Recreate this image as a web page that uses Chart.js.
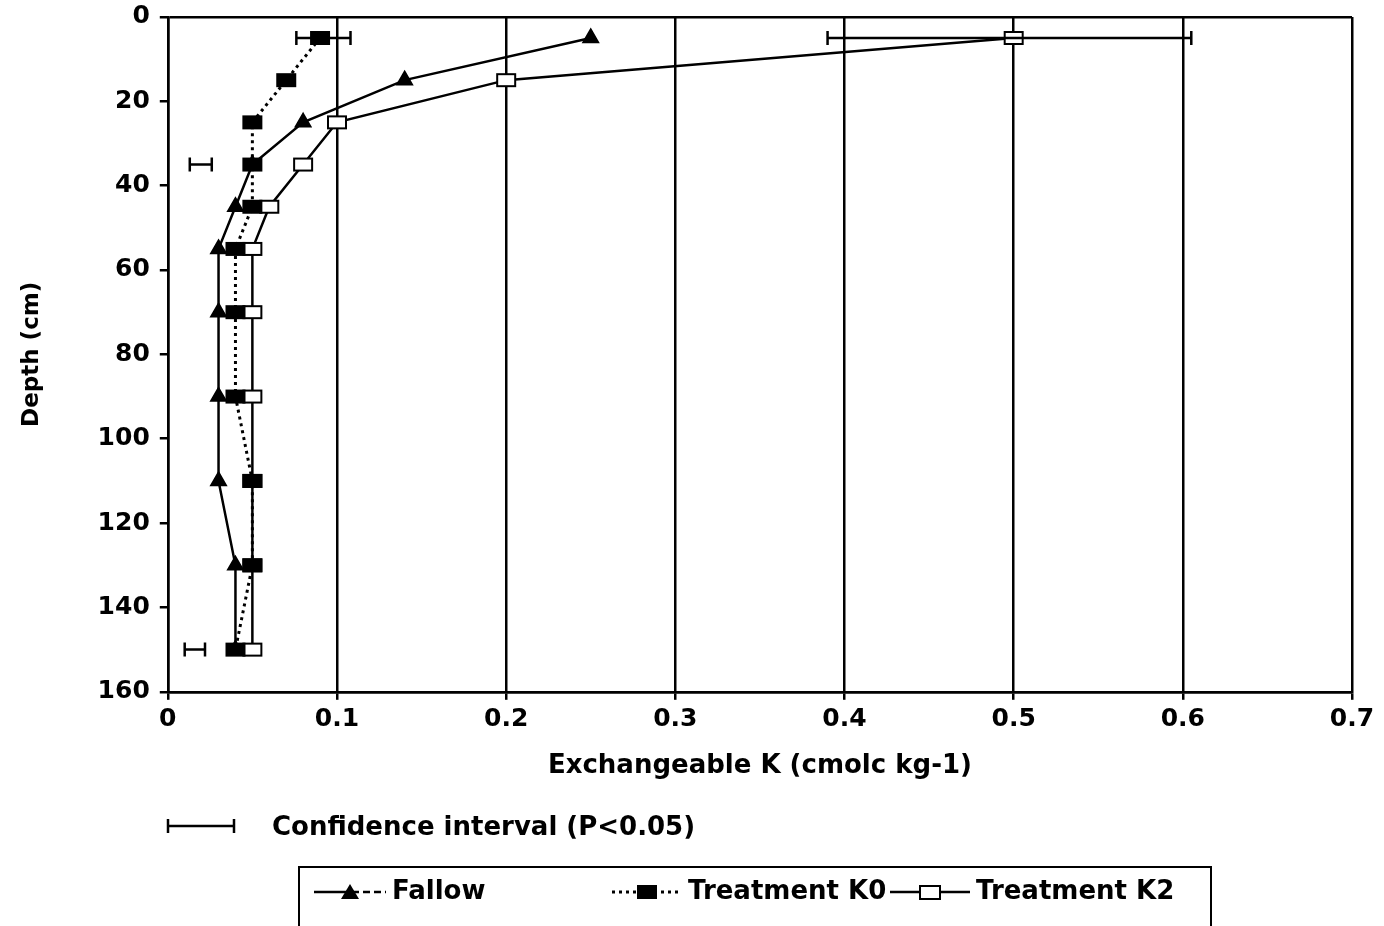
<!DOCTYPE html>
<html>
<head>
<meta charset="utf-8">
<script src="https://cdn.jsdelivr.net/npm/chart.js@4.4.0/dist/chart.umd.min.js"></script>
<style>
  body { margin: 0; background: #fff; }
  #wrap { position: relative; width: 1384px; height: 926px; overflow: hidden; font-family: "DejaVu Sans", sans-serif; font-weight: bold; color: #000; }
  #chart { position: absolute; left: 0; top: 0; }
  .ci { position: absolute; left: 166px; top: 814px; }
  .ciText { position: absolute; left: 272px; top: 810px; font-size: 26px; line-height: 32px; }
  .box { position: absolute; left: 298px; top: 866px; width: 910px; height: 80px; border: 2px solid #000; }
  .item { position: absolute; top: 6px; font-size: 26px; line-height: 32px; white-space: nowrap; }
  .item svg { vertical-align: middle; margin-right: 4px; }
</style>
</head>
<body>
<div id="wrap">
  <canvas id="chart" width="1384" height="926"></canvas>
  <svg class="ci" width="72" height="24"><line x1="2" y1="12" x2="68" y2="12" stroke="#000" stroke-width="2.5"/><line x1="2" y1="5" x2="2" y2="19" stroke="#000" stroke-width="2.5"/><line x1="68" y1="5" x2="68" y2="19" stroke="#000" stroke-width="2.5"/></svg>
  <div class="ciText">Confidence interval (P&lt;0.05)</div>
  <div class="box">
    <div class="item" style="left:12px"><svg width="76" height="24"><line x1="2" y1="12" x2="40" y2="12" stroke="#000" stroke-width="2.5"/><line x1="40" y1="12" x2="74" y2="12" stroke="#000" stroke-width="2.5" stroke-dasharray="7,4"/><polygon points="38,4 47,19 29,19" fill="#000"/></svg>Fallow</div>
    <div class="item" style="left:310px"><svg width="74" height="24"><line x1="2" y1="12" x2="72" y2="12" stroke="#000" stroke-width="3" stroke-dasharray="3,4"/><rect x="27" y="5" width="20" height="14" fill="#000"/></svg>Treatment K0</div>
    <div class="item" style="left:588px"><svg width="84" height="24"><line x1="2" y1="12" x2="82" y2="12" stroke="#000" stroke-width="2.5"/><rect x="32" y="6" width="20" height="13" fill="#fff" stroke="#000" stroke-width="2"/></svg>Treatment K2</div>
  </div>
</div>
<script>
// depths (cm) and exchangeable K values
var depths = [5, 15, 25, 35, 45, 55, 70, 90, 110, 130, 150];
var fallow = [0.25, 0.14, 0.08, 0.05, 0.04, 0.03, 0.03, 0.03, 0.03, 0.04, 0.04];
var treatK0 = [0.09, 0.07, 0.05, 0.05, 0.05, 0.04, 0.04, 0.04, 0.05, 0.05, 0.04];
var treatK2 = [0.5, 0.2, 0.1, 0.08, 0.06, 0.05, 0.05, 0.05, 0.05, 0.05, 0.05];

// confidence interval bars
var ciDepth = [5, 5, 35, 150];
var ciLow = [0.076, 0.39, 0.013, 0.01];
var ciHigh = [0.108, 0.605, 0.026, 0.022];

var xTicks = [0, 0.1, 0.2, 0.3, 0.4, 0.5, 0.6, 0.7];
var yTicks = [0, 20, 40, 60, 80, 100, 120, 140, 160];

function pts(vals) {
    return vals.map(function(v, i){ return {x: v, y: depths[i]}; });
}

function rectMarker(filled) {
    var c = document.createElement('canvas');
    c.width = 22; c.height = 16;
    var g = c.getContext('2d');
    if (filled) {
        g.fillStyle = '#000';
        g.fillRect(1, 1, 20, 14);
    } else {
        g.fillStyle = '#fff';
        g.fillRect(1, 1, 20, 14);
        g.strokeStyle = '#000';
        g.lineWidth = 2;
        g.strokeRect(2, 2, 18, 12);
    }
    return c;
}

var ciPlugin = {
    id: 'ciBars',
    afterDatasetsDraw: function(chart){
        var ctx = chart.ctx, xs = chart.scales.x, ys = chart.scales.y;
        ctx.save();
        ctx.strokeStyle = '#000';
        ctx.lineWidth = 2.5;
        for (var i = 0; i < ciDepth.length; i++) {
            var y = ys.getPixelForValue(ciDepth[i]);
            var x1 = xs.getPixelForValue(ciLow[i]);
            var x2 = xs.getPixelForValue(ciHigh[i]);
            ctx.beginPath();
            ctx.moveTo(x1, y); ctx.lineTo(x2, y);
            ctx.moveTo(x1, y - 7); ctx.lineTo(x1, y + 7);
            ctx.moveTo(x2, y - 7); ctx.lineTo(x2, y + 7);
            ctx.stroke();
        }
        ctx.restore();
    }
};

Chart.defaults.font.family = '"DejaVu Sans", sans-serif';
Chart.defaults.font.weight = 'bold';
Chart.defaults.color = '#000';

var chartArea = document.getElementById("chart");
var soilChart = new Chart(chartArea, {
    type: 'scatter',
    data: {
        datasets: [
            {
                label: "Fallow",
                data: pts(fallow),
                showLine: true,
                borderColor: "#000",
                backgroundColor: "#000",
                borderWidth: 2.5,
                pointStyle: 'triangle',
                pointRadius: 8,
                order: 3
            },
            {
                label: "Treatment K0",
                data: pts(treatK0),
                showLine: true,
                borderColor: "#000",
                backgroundColor: "#000",
                borderWidth: 3,
                borderDash: [3, 4],
                pointStyle: rectMarker(true),
                order: 1
            },
            {
                label: "Treatment K2",
                data: pts(treatK2),
                showLine: true,
                borderColor: "#000",
                backgroundColor: "#fff",
                borderWidth: 2.5,
                pointStyle: rectMarker(false),
                order: 2
            }
        ]
    },
    options: {
        responsive: false,
        animation: false,
        devicePixelRatio: 1,
        layout: { padding: { left: 14, right: 32, top: 2, bottom: 140 } },
        plugins: { legend: { display: false }, tooltip: { enabled: false } },
        scales: {
            x: {
                type: 'linear',
                min: 0, max: 0.7,
                afterBuildTicks: function(s){ s.ticks = xTicks.map(function(v){ return {value: v}; }); },
                ticks: { font: { size: 25 }, padding: 5, maxRotation: 0 },
                grid: { color: '#000', lineWidth: 2.5, tickLength: 8 },
                border: { color: '#000', width: 2.5 },
                title: { display: true, text: 'Exchangeable K (cmolc kg-1)', font: { size: 26 }, padding: { top: 11, bottom: 4 } }
            },
            y: {
                type: 'linear',
                reverse: true,
                min: 0, max: 160,
                afterBuildTicks: function(s){ s.ticks = yTicks.map(function(v){ return {value: v}; }); },
                ticks: { font: { size: 25, lineHeight: 0.55 }, padding: 10 },
                grid: {
                    color: function(c){ return (c.tick && (c.tick.value === 0 || c.tick.value === 160)) ? '#000' : 'rgba(0,0,0,0)'; },
                    tickColor: '#000',
                    lineWidth: 2.5,
                    tickLength: 8
                },
                border: { color: '#000', width: 2.5 },
                title: { display: true, text: 'Depth (cm)', font: { size: 23 }, padding: { top: 4, bottom: 42 } }
            }
        }
    },
    plugins: [ciPlugin]
});
</script>
</body>
</html>
